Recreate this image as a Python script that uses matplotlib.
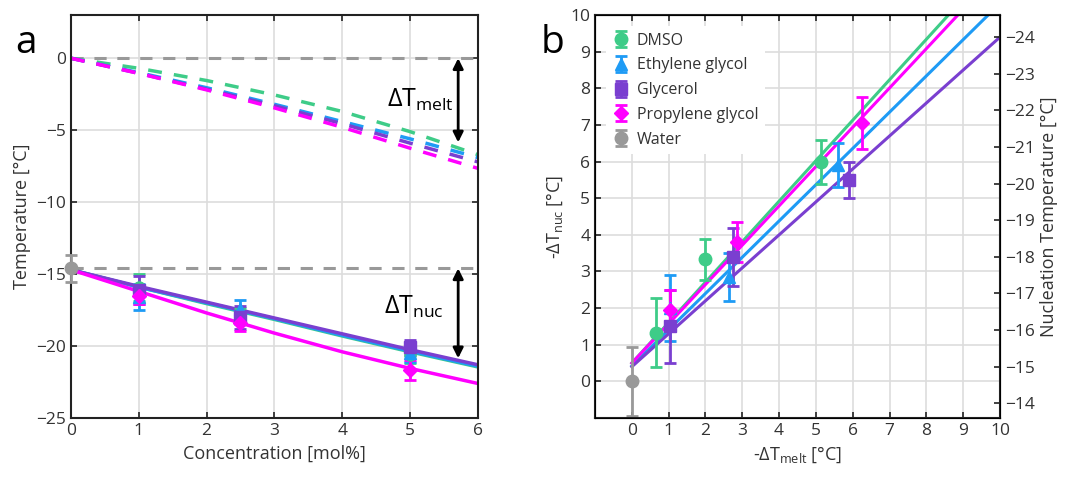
import numpy as np
import matplotlib
matplotlib.use("Agg")
import matplotlib.pyplot as plt

plt.rcParams['font.family'] = ['Open Sans', 'DejaVu Sans']
plt.rcParams['font.size'] = 11
plt.rcParams['mathtext.fontset'] = 'custom'
plt.rcParams['mathtext.rm'] = 'Open Sans'

names = ["DMSO", "Ethylene glycol", "Glycerol", "Propylene glycol"]
colors = ["#3ecc88", "#1e9bf5", "#7a3fd0", "#ff00ff"]
markers = ["o", "^", "s", "D"]
water_color = "#999999"

# panel a
conc = [1, 2.5, 5]
curve_conc = [0, 1, 2, 3, 4, 5, 6]
melt_curves = [
    [0, -0.70, -1.55, -2.55, -3.70, -5.10, -6.70],
    [0, -1.00, -2.05, -3.20, -4.40, -5.60, -6.90],
    [0, -1.05, -2.15, -3.30, -4.55, -5.90, -7.20],
    [0, -1.05, -2.20, -3.45, -4.80, -6.25, -7.65],
]
nuc_curves = [
    [-14.7, -15.90, -17.05, -18.15, -19.30, -20.40, -21.45],
    [-14.7, -15.90, -17.00, -18.10, -19.25, -20.35, -21.40],
    [-14.7, -15.85, -16.95, -18.05, -19.15, -20.25, -21.30],
    [-14.7, -16.20, -17.70, -19.10, -20.40, -21.55, -22.60],
]
water_T = -14.6
water_err = 0.95

# panel b: -dT_melt, -dT_nuc, error
dmelt = [
    [0.65, 2.0, 5.15],
    [1.05, 2.65, 5.6],
    [1.05, 2.75, 5.9],
    [1.05, 2.85, 6.25],
]
dnuc = [
    [1.33, 3.33, 6.0],
    [2.0, 2.85, 5.9],
    [1.5, 3.4, 5.5],
    [1.95, 3.8, 7.05],
]
dnuc_err = [
    [0.95, 0.55, 0.6],
    [0.9, 0.65, 0.6],
    [1.0, 0.8, 0.5],
    [0.55, 0.55, 0.7],
]
fit_intercept = [0.5, 0.42, 0.4, 0.5]
fit_slope = [1.105, 0.99, 0.9, 1.073]

fig = plt.figure(figsize=(10.85, 4.78), dpi=100)
axa = fig.add_axes([0.0654, 0.1255, 0.375, 0.843])
axb = fig.add_axes([0.5484, 0.1255, 0.3733, 0.843])

def style(ax):
    ax.grid(True, color="#dddddd", lw=1.2)
    ax.set_axisbelow(True)
    ax.tick_params(direction="in", length=4, width=1.2, colors="#222222",
                   labelcolor="#333333", labelsize=12.5)
    for s in ax.spines.values():
        s.set_linewidth(1.5)
        s.set_color("#222222")

# ---- a
style(axa)
axa.tick_params(top=True, right=True)
axa.axhline(0, color=water_color, ls=(0, (4, 3.5)), lw=2.2, zorder=1)
axa.axhline(water_T, color=water_color, ls=(0, (4, 3.5)), lw=2.2, zorder=1)
for i in range(4):
    axa.plot(curve_conc, melt_curves[i], color=colors[i], ls=(0, (4, 3.5)), lw=2.5)
for i in range(4):
    axa.plot(curve_conc, nuc_curves[i], color=colors[i], lw=2.5)
for i in range(4):
    T = [water_T - v for v in dnuc[i]]
    axa.errorbar(conc, T, yerr=dnuc_err[i], fmt=markers[i], color=colors[i],
                 ms=8 if markers[i] != "D" else 7, capsize=4, elinewidth=2, capthick=2)
axa.errorbar([0], [water_T], yerr=[water_err], fmt="o", color=water_color,
             ms=9, capsize=4, elinewidth=2, capthick=2, clip_on=False, zorder=5)
axa.annotate("", xy=(5.71, -5.85), xytext=(5.71, 0),
             arrowprops=dict(arrowstyle="<|-|>", color="black", lw=2, mutation_scale=15,
                             shrinkA=0, shrinkB=0))
axa.annotate("", xy=(5.71, -20.85), xytext=(5.71, water_T),
             arrowprops=dict(arrowstyle="<|-|>", color="black", lw=2, mutation_scale=15,
                             shrinkA=0, shrinkB=0))
axa.text(4.66, -2.9, r"$\mathregular{\Delta T_{melt}}$", fontsize=18, va="center")
axa.text(4.62, -17.3, r"$\mathregular{\Delta T_{nuc}}$", fontsize=18, va="center")
axa.set_xlim(0, 6)
axa.set_ylim(-25, 3)
axa.set_yticks([0, -5, -10, -15, -20, -25])
axa.set_xticks(range(7))
axa.set_xlabel("Concentration [mol%]", fontsize=13, color="#333333")
axa.set_ylabel("Temperature [°C]", fontsize=13, color="#333333")
fig.text(0.014, 0.89, "a", fontsize=28)

# ---- b
style(axb)
axb.tick_params(top=True)
xs = np.array([0, 10])
for i in range(4):
    axb.plot(xs, fit_intercept[i] + fit_slope[i] * xs, color=colors[i], lw=2.2)
for i in range(4):
    axb.errorbar(dmelt[i], dnuc[i], yerr=dnuc_err[i], fmt=markers[i], color=colors[i],
                 ms=9 if markers[i] != "D" else 7.5, capsize=4, elinewidth=2, capthick=2,
                 label=names[i])
axb.errorbar([0], [0], yerr=[water_err], fmt="o", color=water_color, ms=9,
             capsize=4, elinewidth=2, capthick=2, label="Water")
axb.set_xlim(-1, 10)
axb.set_ylim(-1, 10)
axb.set_xticks(range(11))
axb.set_yticks(range(11))
axb.set_xlabel(r"-$\mathregular{\Delta T_{melt}}$ [°C]", fontsize=13, color="#333333")
axb.set_ylabel(r"-$\mathregular{\Delta T_{nuc}}$ [°C]", fontsize=13, color="#333333")
leg = axb.legend(loc="upper left", frameon=True, fancybox=False, edgecolor="none",
                 framealpha=1, fontsize=11.5, handlelength=1.0, handletextpad=0.5,
                 borderpad=0.4, labelspacing=0.55, borderaxespad=0.7)
for t in leg.get_texts():
    t.set_color("#333333")

axr = axb.twinx()
axr.set_ylim(water_T + 1, water_T - 10)
axr.set_yticks(range(-14, -25, -1))
axr.tick_params(direction="in", length=4, width=1.2, colors="#222222",
                labelcolor="#333333", labelsize=12.5)
axr.set_ylabel("Nucleation Temperature [°C]", fontsize=13, color="#333333")
fig.text(0.498, 0.89, "b", fontsize=28)

fig.savefig("out.png", dpi=100)
